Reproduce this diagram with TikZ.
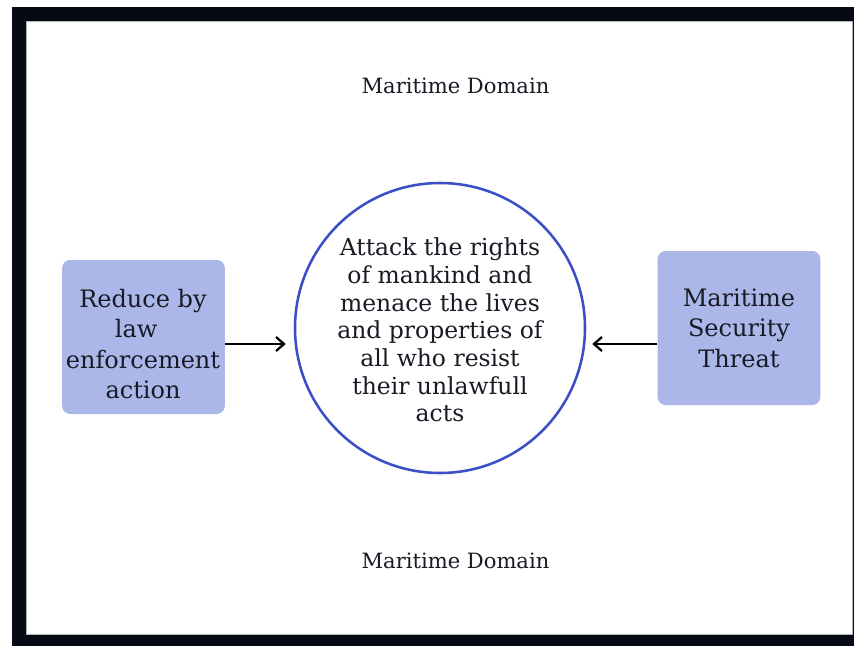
\documentclass[tikz,border=0pt]{standalone}
\usepackage{fontspec}
\setmainfont{DejaVu Serif}
\usetikzlibrary{arrows.meta}
\definecolor{framecol}{RGB}{5,10,20}
\definecolor{boxfill}{RGB}{171,183,233}
\definecolor{ringcol}{RGB}{58,79,198}
\definecolor{ink}{RGB}{24,26,36}
\tikzset{
  stdbox/.style={fill=boxfill, rounded corners=6pt, minimum width=122pt, minimum height=115.5pt, inner sep=0pt},
  boxtext/.style={align=center, text=ink, font=\fontsize{18}{22.9}\selectfont, inner sep=0pt},
  circtext/.style={align=center, text=ink, font=\fontsize{17.6}{20.8}\selectfont, inner sep=0pt},
  domtext/.style={text=ink, font=\fontsize{15.8}{19}\selectfont, inner sep=0pt, anchor=base},
  ringnode/.style={circle, draw=ringcol, line width=1.9pt, minimum size=217.5pt, inner sep=0pt},
  arr/.style={-{Straight Barb[length=6pt,width=10.5pt]}, line width=1.7pt, black},
}
\begin{document}
\begin{tikzpicture}[x=0.75pt,y=-0.75pt]
\useasboundingbox (0,0) rectangle (854,646);
\fill[white] (0,0) rectangle (854,646);
\fill[framecol] (12,7) rectangle (854,646);
\filldraw[fill=white, draw=gray!60, line width=0.5pt] (26,21) rectangle (852,634);

\node[domtext] (dtop) at (455.5,93) {Maritime Domain};
\node[domtext] (dbot) at (455.5,568) {Maritime Domain};

\node[ringnode] (circ) at (440,328) {};
\node[circtext] (ctext) at (440,330) {Attack the rights\\of mankind and\\menace the lives\\and properties of\\all who resist\\their unlawfull\\acts};

\node[stdbox] (lbox) at (143.5,337) {};
\node[boxtext] (ltext) at (143,344) {Reduce by\\law\hphantom{x}\\enforcement\\action};

\node[stdbox, boxtext, minimum width=122pt, minimum height=115.5pt] (rbox) at (739,328) {Maritime\\Security\\Threat};

\coordinate (ay) at (0,344);
\draw[arr, shorten >=6pt] (lbox.east |- ay) -- (circ.west |- ay);
\draw[arr, shorten >=4.5pt] (rbox.west |- ay) -- (circ.east |- ay);
\end{tikzpicture}
\end{document}
